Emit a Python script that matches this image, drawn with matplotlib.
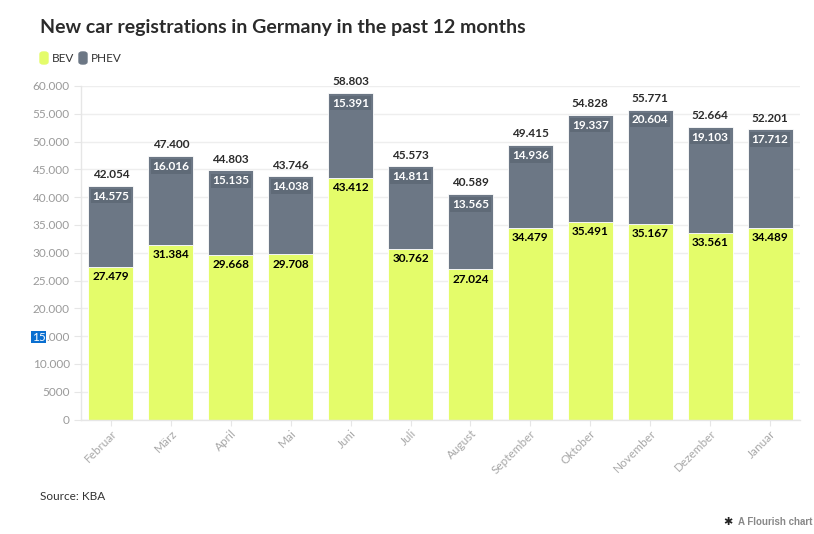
import matplotlib
matplotlib.use("Agg")
import matplotlib.pyplot as plt
from matplotlib.patches import FancyBboxPatch
import numpy as np

months = ['Februar', 'März', 'April', 'Mai', 'Juni', 'Juli', 'August',
          'September', 'Oktober', 'November', 'Dezember', 'Januar']
bev = [27479, 31384, 29668, 29708, 43412, 30762, 27024, 34479, 35491, 35167, 33561, 34489]
phev = [14575, 16016, 15135, 14038, 15391, 14811, 13565, 14936, 19337, 20604, 19103, 17712]
yticks = [0, 5000, 10000, 15000, 20000, 25000, 30000, 35000, 40000, 45000, 50000, 55000, 60000]

BEV_C = '#e4fc6a'
PHEV_C = '#6c7785'
FONT = ['Lato', 'DejaVu Sans']

plt.rcParams['font.family'] = FONT


def de_fmt(v):
    # Flourish style: no separator under 10.000
    v = int(round(v))
    if v < 10000:
        return str(v)
    return f"{v:,}".replace(',', '.')


fig = plt.figure(figsize=(8.14, 5.34), dpi=100)
ax = fig.add_axes([81 / 814, 1 - 419.5 / 534, (800 - 81) / 814, (419.5 - 86) / 534])

x = np.arange(len(months))
bev = np.array(bev)
phev = np.array(phev)
total = bev + phev

ax.bar(x, bev, width=0.75, color=BEV_C, edgecolor='white', linewidth=0.6, zorder=2)
ax.bar(x, phev, width=0.75, bottom=bev, color=PHEV_C, edgecolor='white', linewidth=0.6, zorder=2)

# value labels
for i in range(len(x)):
    ax.annotate(de_fmt(total[i]), (x[i], total[i]), xytext=(0, 4), textcoords='offset points',
                ha='center', va='bottom', fontsize=8.5, fontweight='bold', color='#2b2b2b', zorder=4)
    ax.annotate(de_fmt(phev[i]), (x[i], total[i]), xytext=(0, -7.5), textcoords='offset points',
                ha='center', va='center', fontsize=8.5, fontweight='bold', color='white', zorder=4,
                bbox=dict(boxstyle='square,pad=0.15', fc='#5f6a77', ec='none'))
    ax.annotate(de_fmt(bev[i]), (x[i], bev[i]), xytext=(0, -7), textcoords='offset points',
                ha='center', va='center', fontsize=8.5, fontweight='bold', color='black', zorder=4,
                bbox=dict(boxstyle='square,pad=0.15', fc=BEV_C, ec='none'))

ax.set_xlim(-0.5, len(x) - 0.5)
ax.set_ylim(0, 60000)
ax.set_yticks(yticks)
# the "15" of 15.000 is drawn separately with a selection highlight
ax.set_yticklabels([('.000' if v == 15000 else de_fmt(v)) for v in yticks])
ax.set_xticks(x)
ax.set_xticklabels(months, rotation=45, ha='right', rotation_mode='anchor')

ax.grid(axis='y', color='#eeeeee', linewidth=1, zorder=0)
ax.set_axisbelow(True)
for s in ['top', 'right']:
    ax.spines[s].set_visible(False)
for s in ['left', 'bottom']:
    ax.spines[s].set_color('#e6e6e6')
    ax.spines[s].set_linewidth(1)
ax.tick_params(axis='y', colors='#e6e6e6', labelcolor='#9a9a9a', labelsize=8.5, length=5, pad=3)
ax.tick_params(axis='x', colors='#e6e6e6', labelcolor='#a8a8a8', labelsize=8.5, length=4, pad=2)

# title, legend, footer
fig.text(40 / 814, 1 - 28 / 534, 'New car registrations in Germany in the past 12 months',
         fontsize=14, fontweight='bold', color='#2b2b2b', va='center', ha='left')
for x0, col, lab, tx in [(40, BEV_C, 'BEV', 52), (79, PHEV_C, 'PHEV', 91)]:
    fig.patches.append(FancyBboxPatch((x0 / 814, 1 - 64 / 534), 8 / 814, 12 / 534,
                                      boxstyle='round,pad=0,rounding_size=0.004',
                                      transform=fig.transFigure, color=col, figure=fig))
    fig.text(tx / 814, 1 - 58 / 534, lab, fontsize=8.5, color='#333333', va='center', ha='left')

fig.text(40 / 814, 1 - 497 / 534, 'Source: KBA', fontsize=8.5, color='#333333', va='center', ha='left')
fig.text(812 / 814, 1 - 522 / 534, 'A Flourish chart', fontsize=7, fontweight='bold',
         color='#888888', va='center', ha='right', family=['Liberation Sans', 'DejaVu Sans'])
fig.text(733 / 814, 1 - 522 / 534, '\u2731', fontsize=8, color='#222222', va='center', ha='right',
         family=['DejaVu Sans'])

# blue selection highlight on the "15" of the 15.000 tick
fig.canvas.draw()
lab = [t for t in ax.get_yticklabels() if t.get_text() == '.000'][0]
bb = lab.get_window_extent()
fig.text((bb.x0 - 1) / 814, (bb.y0 + bb.y1) / 2 / 534, '15', fontsize=8.5, color='white',
         va='center', ha='right', bbox=dict(boxstyle='square,pad=0.05', fc='#0a6fd0', ec='none'))

fig.savefig('out.png', dpi=100)
